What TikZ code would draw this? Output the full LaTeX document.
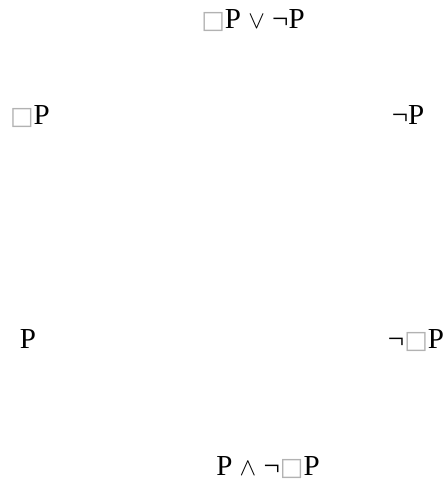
\documentclass[tikz,border=0pt]{standalone}
\usepackage{fontspec}
\setmainfont{Liberation Serif}
\newfontfamily\symfont{DejaVu Sans}
\usepackage{tikz}
\usetikzlibrary{positioning}
\newcommand{\bx}{{\color{gray!60}\symfont\fontsize{25}{30}\selectfont □}}
\newcommand{\myor}{{\fontsize{28}{32}\selectfont$\vee$}}
\newcommand{\myand}{{\fontsize{28}{32}\selectfont$\wedge$}}

\begin{document}
\begin{tikzpicture}[
    x=1pt, y=1pt,
    font=\fontsize{29}{34}\selectfont,
    prop/.style={inner sep=0pt, anchor=base}
]
\useasboundingbox (0,0) rectangle (445,483);
\node[prop] (top) at (253,454) {\bx P \myor{} ¬P};
\node[prop] (boxp) at (30,358) {\bx P};
\node[prop] (negp) at (408,358) {¬P};
\node[prop] (p) at (28,134) {P};
\node[prop] (negboxp) at (416,134) {¬\bx P};
\node[prop] (bot) at (268,7) {P \myand{} ¬\bx P};
\end{tikzpicture}
\end{document}
